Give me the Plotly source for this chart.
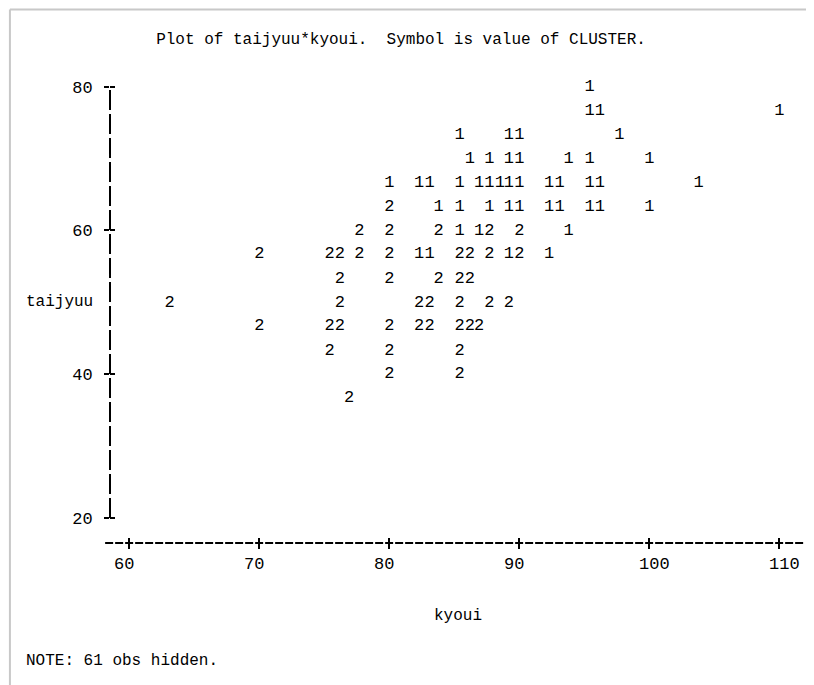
import plotly.graph_objects as go

# ---- data (symbol = CLUSTER) ----
kyoui = [
    95.4,
    95.4, 96.2, 110.0,
    85.4, 89.2, 90.0, 97.7,
    86.2, 87.7, 89.2, 90.0, 93.8, 95.4, 100.0,
    80.0, 82.3, 83.1, 85.4, 86.9, 87.7, 88.5, 89.2, 90.0, 92.3, 93.1, 95.4, 96.2, 103.8,
    80.0, 83.8, 85.4, 87.7, 89.2, 90.0, 92.3, 93.1, 95.4, 96.2, 100.0,
    77.7, 80.0, 83.8, 85.4, 86.9, 87.7, 90.0, 93.8,
    70.0, 75.4, 76.2, 77.7, 80.0, 82.3, 83.1, 85.4, 86.2, 87.7, 89.2, 90.0, 92.3,
    76.2, 80.0, 83.8, 85.4, 86.2,
    63.1, 76.2, 82.3, 83.1, 85.4, 87.7, 89.2,
    70.0, 75.4, 76.2, 80.0, 82.3, 83.1, 85.4, 86.2, 86.9,
    75.4, 80.0, 85.4,
    80.0, 85.4,
    76.9,
]
taijyuu = (
    [80.0] * 1 + [76.7] * 3 + [73.3] * 4 + [70.0] * 7 + [66.7] * 14 + [63.3] * 11
    + [60.0] * 8 + [56.7] * 13 + [53.3] * 5 + [50.0] * 7 + [46.7] * 9 + [43.3] * 3
    + [40.0] * 2 + [36.7] * 1
)
cluster = (
    [1]
    + [1, 1, 1]
    + [1, 1, 1, 1]
    + [1] * 7
    + [1] * 14
    + [2] + [1] * 10
    + [2, 2, 2, 1, 1, 2, 2, 1]
    + [2, 2, 2, 2, 2, 1, 1, 2, 2, 2, 1, 2, 1]
    + [2] * 5
    + [2] * 7
    + [2] * 9
    + [2] * 3
    + [2] * 2
    + [2]
)

x_ticks = [60, 70, 80, 90, 100, 110]
x_ticktext = ["60\u00a0", "70\u00a0", "80\u00a0", "90\u00a0", "\u00a0100", "\u00a0110"]
y_ticks = [20, 40, 60, 80]
y_ticktext = ["20", "40", "60", "80"]

title_text = "Plot of taijyuu*kyoui.  Symbol is value of CLUSTER."
note_text = "NOTE: 61 obs hidden."

MONO = "Liberation Mono, DejaVu Sans Mono, monospace"
FS = 17

fig = go.Figure()
fig.add_trace(
    go.Scatter(
        x=kyoui,
        y=taijyuu,
        mode="text",
        text=[str(c) for c in cluster],
        textposition="middle center",
        textfont=dict(family=MONO, size=FS, color="black"),
        hoverinfo="skip",
        showlegend=False,
    )
)
# empty trace so the overlay axes (second half of the "+" tick marks) are drawn
fig.add_trace(
    go.Scatter(x=[], y=[], xaxis="x2", yaxis="y2", mode="markers",
               hoverinfo="skip", showlegend=False)
)

common_tick = dict(tickcolor="black", tickwidth=1.5, ticklen=5)
XR = [58.515, 111.977]
YR = [16.52, 80.93]

W, H = 806, 677
fig.update_layout(
    width=W,
    height=H,
    autosize=False,
    margin=dict(l=102, r=9, t=72, b=142),
    paper_bgcolor="white",
    plot_bgcolor="white",
    font=dict(family=MONO, size=FS, color="black"),
    title=dict(
        text=title_text,
        x=393 / W,
        xref="container",
        xanchor="center",
        y=1 - 30 / H,
        yref="container",
        yanchor="middle",
        font=dict(family=MONO, size=16, color="black"),
    ),
    xaxis=dict(
        range=XR,
        tickvals=x_ticks,
        ticktext=x_ticktext,
        ticks="outside",
        showline=False,
        showgrid=False,
        zeroline=False,
        tickfont=dict(family=MONO, size=FS, color="black"),
        **common_tick,
    ),
    xaxis2=dict(
        range=XR,
        overlaying="x",
        anchor="y2",
        side="bottom",
        tickvals=x_ticks,
        ticks="inside",
        showticklabels=False,
        showline=False,
        showgrid=False,
        zeroline=False,
        **common_tick,
    ),
    yaxis=dict(
        range=YR,
        tickvals=y_ticks,
        ticktext=y_ticktext,
        ticks="outside",
        showline=False,
        showgrid=False,
        zeroline=False,
        ticklabelstandoff=8,
        tickfont=dict(family=MONO, size=FS, color="black"),
        **common_tick,
    ),
    yaxis2=dict(
        range=YR,
        overlaying="y",
        anchor="x2",
        side="left",
        tickvals=y_ticks,
        ticks="inside",
        showticklabels=False,
        showline=False,
        showgrid=False,
        zeroline=False,
        **common_tick,
    ),
)

shapes = [
    # vertical axis drawn as printer "|" characters
    dict(type="line", xref="paper", yref="y", x0=0, x1=0,
         y0=min(y_ticks), y1=max(y_ticks),
         line=dict(color="black", width=2, dash="20px,4px")),
    # horizontal axis drawn as printer "-" characters
    dict(type="line", xref="paper", yref="paper", x0=-0.007, x1=1, y0=0, y1=0,
         line=dict(color="black", width=2, dash="8px,2px")),
    # window border (left and top)
    dict(type="line", xref="paper", yref="paper", x0=-0.144, x1=-0.144, y0=-0.31, y1=1.152,
         line=dict(color="#c8c8c8", width=2)),
    dict(type="line", xref="paper", yref="paper", x0=-0.144, x1=1.02, y0=1.152, y1=1.152,
         line=dict(color="#c8c8c8", width=2)),
]
fig.update_layout(shapes=shapes)

fig.add_annotation(
    text="taijyuu", xref="paper", yref="y", x=0, y=sum(y_ticks) / len(y_ticks),
    xanchor="right", yanchor="middle", xshift=-15, showarrow=False,
    font=dict(family=MONO, size=16, color="black"),
)
fig.add_annotation(
    text="kyoui", xref="paper", yref="paper", x=0.5, y=0, yshift=-73,
    xanchor="center", yanchor="middle", showarrow=False,
    font=dict(family=MONO, size=16, color="black"),
)
fig.add_annotation(
    text=note_text, xref="paper", yref="paper", x=-0.124, y=0, yshift=-118,
    xanchor="left", yanchor="middle", showarrow=False,
    font=dict(family=MONO, size=16, color="black"),
)

fig.write_html("out.html")
